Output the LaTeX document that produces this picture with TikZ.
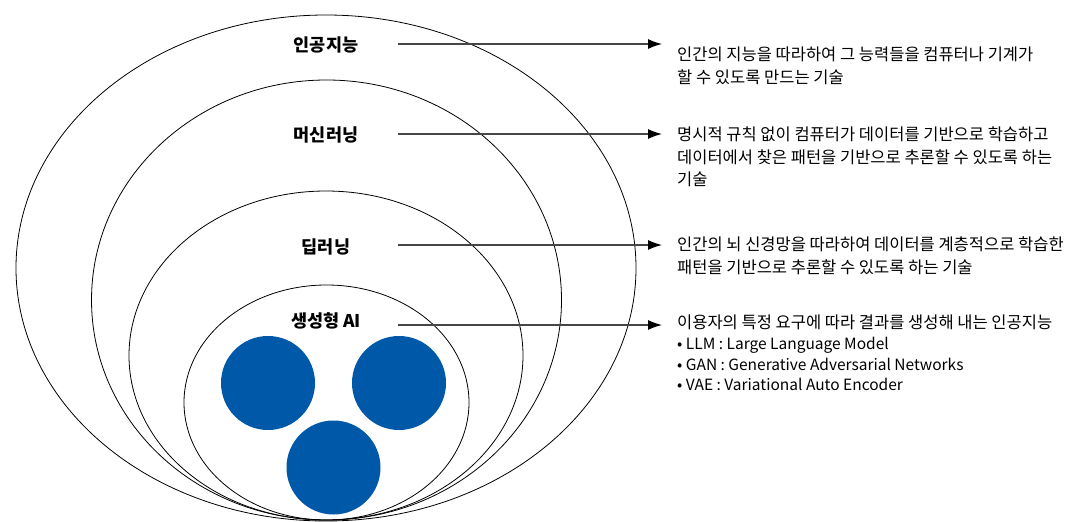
\documentclass[tikz,border=0pt]{standalone}
\usepackage{fontspec}
\setmainfont{Noto Sans CJK KR}
\usetikzlibrary{arrows.meta}
\definecolor{aiblue}{RGB}{0,89,168}
\definecolor{arrgray}{RGB}{70,70,70}
\newcommand{\latinsz}{\fontsize{15.5}{21}\selectfont}
\begin{document}
\begin{tikzpicture}[x=1pt,y=-1pt,
  ring/.style={draw=black, line width=0.8pt},
  blob/.style={fill=aiblue, draw=none},
  lbl/.style={font=\fontsize{17.5}{20}\selectfont\bfseries, inner sep=0pt},
  desc/.style={font=\fontsize{16.5}{22.5}\selectfont, align=left, anchor=north west, inner sep=0pt},
  arr/.style={draw=arrgray, line width=1.2pt, -{Latex[length=14pt,width=10pt,color=black]}}]
\useasboundingbox (0,0) rectangle (1072,522);
% nested sets
\draw[ring] (326,268) ellipse [x radius=310pt, y radius=253pt];
\draw[ring] (326.5,300) ellipse [x radius=235pt, y radius=220pt];
\draw[ring] (326,355.5) ellipse [x radius=197pt, y radius=164.5pt];
\draw[ring] (326.5,402.5) ellipse [x radius=142.5pt, y radius=117.5pt];
% blue circles
\fill[blob] (268,383) circle [radius=47pt];
\fill[blob] (399,383) circle [radius=47pt];
\fill[blob] (333.5,467.5) circle [radius=47pt];
% labels
\node[lbl] (l1) at (326,45) {인공지능};
\node[lbl] (l2) at (326,135) {머신러닝};
\node[lbl] (l3) at (326,247) {딥러닝};
\node[lbl] (l4) at (326,321) {생성형 AI};
% arrow ends
\coordinate (s1) at (398,44);  \coordinate (e1) at (662,44);
\coordinate (s2) at (398,134); \coordinate (e2) at (662,134);
\coordinate (s3) at (398,245); \coordinate (e3) at (662,245);
\coordinate (s4) at (398,325); \coordinate (e4) at (662,325);
\draw[arr] (s1) -- (e1);
\draw[arr] (s2) -- (e2);
\draw[arr] (s3) -- (e3);
\draw[arr] (s4) -- (e4);
% descriptions
\node[desc] (d1) at (677,47) {인간의 지능을 따라하여 그 능력들을 컴퓨터나 기계가\\할 수 있도록 만드는 기술};
\node[desc] (d2) at (677,127) {명시적 규칙 없이 컴퓨터가 데이터를 기반으로 학습하고\\데이터에서 찾은 패턴을 기반으로 추론할 수 있도록 하는\\기술};
\node[desc] (d3) at (677,237) {인간의 뇌 신경망을 따라하여 데이터를 계층적으로 학습한\\패턴을 기반으로 추론할 수 있도록 하는 기술};
\node[desc] (d4) at (677,315) {이용자의 특정 요구에 따라 결과를 생성해 내는 인공지능\\[-1.5pt]{\latinsz • LLM : Large Language Model}\\[-2pt]{\latinsz • GAN : Generative Adversarial Networks}\\[-2pt]{\latinsz • VAE : Variational Auto Encoder}};
\end{tikzpicture}
\end{document}
